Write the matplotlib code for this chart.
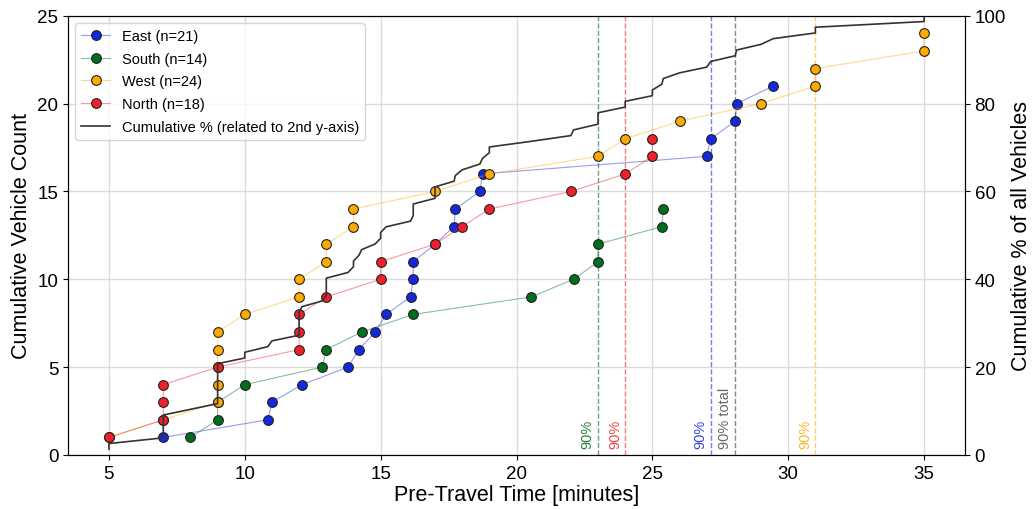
import numpy as np
import matplotlib
matplotlib.use('Agg')
import matplotlib.pyplot as plt
from matplotlib.colors import to_rgba

plt.rcParams['font.family'] = ['Liberation Sans', 'DejaVu Sans']

# pre-travel times (minutes) per region, sorted
east = [7.0, 10.85, 11.0, 12.1, 13.8, 14.2, 14.8, 15.2, 16.1, 16.2, 16.2, 17.0,
        17.7, 17.75, 18.65, 18.75, 27.0, 27.15, 28.05, 28.1, 29.45]
south = [8.0, 9.0, 9.0, 10.0, 12.85, 13.0, 14.3, 16.2, 20.55, 22.1, 23.0, 23.0,
         25.35, 25.4]
west = [5, 7, 9, 9, 9, 9, 9, 10, 12, 12, 13, 13, 14, 14, 17, 19, 23, 24, 26, 29,
        31, 31, 35, 35]
north = [5, 7, 7, 7, 9, 12, 12, 12, 13, 15, 15, 17, 18, 19, 22, 24, 25, 25]

names = ['East', 'South', 'West', 'North']
colors = ['#1428dc', '#006e1e', '#ffaa00', '#f0202a']
# 90% marks as drawn
p90 = [27.15, 23.0, 31.0, 24.0]
p90_total = 28.05


def main():
    series = [east, south, west, north]
    fig, ax = plt.subplots(figsize=(10.33, 5.1), dpi=100)
    fig.subplots_adjust(left=0.066, right=0.934, top=0.967, bottom=0.106)
    ax2 = ax.twinx()

    handles = []
    for data, name, c in zip(series, names, colors):
        x = np.sort(data)
        y = np.arange(1, len(x) + 1)
        h, = ax.plot(x, y, color=to_rgba(c, 0.45), lw=0.8, marker='o', ms=7,
                     mfc=c, mec='#222222', mew=0.8, label=f'{name} (n={len(x)})',
                     zorder=3)
        handles.append(h)

    allx = np.sort(np.concatenate([np.asarray(s, float) for s in series]))
    pct = np.arange(1, len(allx) + 1) / len(allx) * 100
    hc, = ax2.plot(allx, pct, color='#333333', lw=1.2,
                   label='Cumulative % (related to 2nd y-axis)')
    handles.append(hc)

    for v, c in zip(p90, colors):
        ax.axvline(v, color=c, ls='--', lw=1, alpha=0.6, zorder=1)
        ax.text(v - 0.12, 0.4, '90%', color=c, rotation=90, ha='right',
                va='bottom', fontsize=10.5, alpha=0.85)
    ax.axvline(p90_total, color='dimgray', ls='--', lw=1, alpha=0.8, zorder=1)
    ax.text(p90_total - 0.12, 0.4, '90% total', color='dimgray', rotation=90,
            ha='right', va='bottom', fontsize=10.5)

    ax.set_ylim(0, 25)
    ax2.set_ylim(0, 100)
    ax.set_xlim(3.5, 36.5)
    ax.set_xticks(range(5, 36, 5))
    ax.set_yticks(range(0, 26, 5))
    ax2.set_yticks(range(0, 101, 20))
    ax.grid(True, color='lightgray', lw=1, alpha=0.8)
    ax.set_axisbelow(True)
    ax.tick_params(labelsize=13.5)
    ax2.tick_params(labelsize=13.5)
    ax.set_xlabel('Pre-Travel Time [minutes]', fontsize=15.5, labelpad=2)
    ax.set_ylabel('Cumulative Vehicle Count', fontsize=15.5)
    ax2.set_ylabel('Cumulative % of all Vehicles', fontsize=15.5)

    ax2.legend(handles=handles, loc='upper left', fontsize=10.5,
               labelspacing=0.6)
    fig.savefig('out.png', dpi=100)
    plt.close(fig)


if __name__ == '__main__':
    main()
